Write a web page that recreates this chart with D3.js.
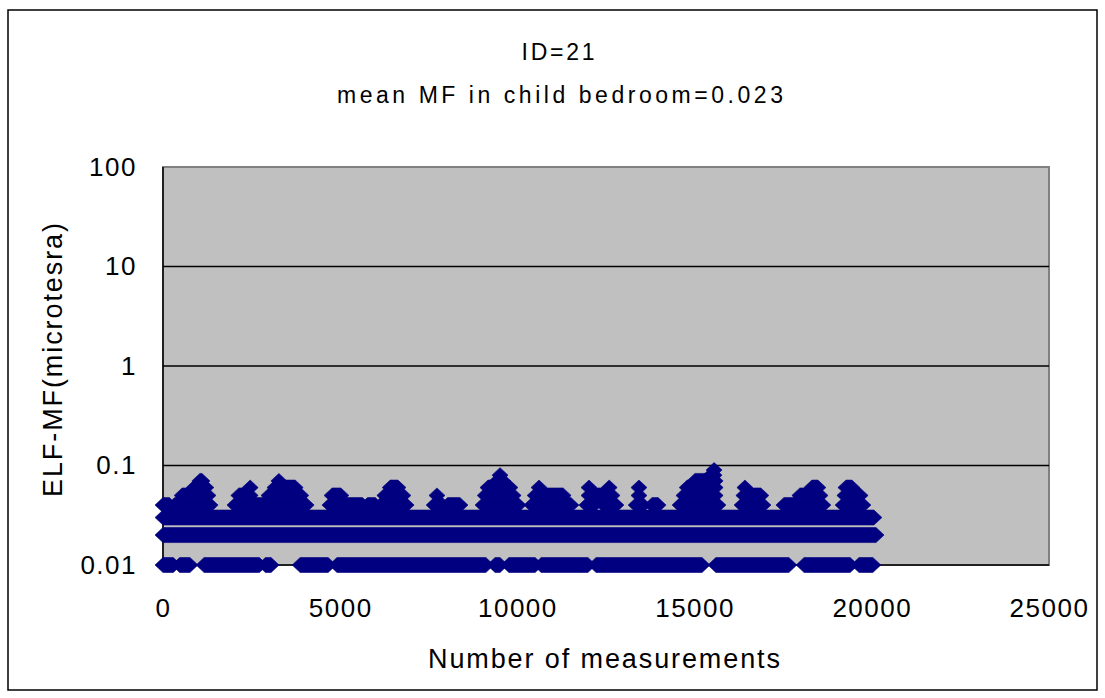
<!DOCTYPE html>
<html>
<head>
<meta charset="utf-8">
<script src="https://d3js.org/d3.v7.min.js"></script>
<style>
    body { margin: 0; background: #ffffff; }
    text { font-family: "Liberation Sans", Arial, sans-serif; fill: #000000; }
    .tick text { font-size: 26px; letter-spacing: 1.5px; }
</style>
</head>
<body>
<script>
//Global variables
const width = 1105;
const height = 698;
const plotLeft = 163;
const plotRight = 1049;
const plotTop = 167;
const plotBottom = 565;
const hw = 8;   //half width of diamond marker
const hh = 7.5; //half height of diamond marker

//Tick values and labels
const xTicks = [0, 5000, 10000, 15000, 20000, 25000];
const yTicks = [0.01, 0.1, 1, 10, 100];
const yTickLabels = ["0.01", "0.1", "1", "10", "100"];
const gridValues = [0.1, 1, 10];

//Measured MF levels (microtesla), quantised to 0.01
const levels = [0.01, 0.02, 0.03, 0.04, 0.05, 0.06, 0.07, 0.08, 0.09];

//Runs of consecutive measurements [first, last] read at each level
const mf001 = [[0, 290], [470, 760], [1160, 2720], [2890, 3050], [3870, 4660], [4910, 9110],
    [9370, 9510], [9760, 10500], [10670, 11990], [12220, 15210], [15600, 17660],
    [18090, 19390], [19640, 20030]];
const mf002 = [[0, 20120]];
const mf003 = [[0, 20060]];
const mf004 = [[0, 180], [330, 490], [640, 1330], [2030, 2300], [2440, 3290], [3430, 4040],
    [4710, 4920], [5070, 5630], [5770, 5990], [6140, 6860], [7650, 7880], [8030, 8380],
    [9030, 10020], [10410, 10930], [11080, 11510], [11960, 12160], [12440, 12780],
    [13350, 13540], [13800, 13970], [14590, 15660], [16340, 16930], [17520, 18620],
    [19190, 19750]];
const mf005 = [[540, 1270], [2140, 2460], [2990, 3890], [4770, 5020], [6260, 6770],
    [7730, 7730], [9090, 9880], [10500, 11290], [12020, 12670], [13430, 13430],
    [14700, 15580], [16390, 16870], [17970, 18540], [19240, 19670]];
const mf006 = [[880, 1210], [2460, 2460], [3160, 3730], [6410, 6630], [9170, 9790],
    [10610, 10610], [12020, 12020], [12590, 12590], [13430, 13430], [14790, 15580],
    [16420, 16420], [18310, 18480], [19270, 19440]];
const mf007 = [[1040, 1100], [3270, 3270], [9430, 9590], [15010, 15580]];
const mf008 = [[9510, 9510], [15460, 15550]];
const mf009 = [[15550, 15550]];

const runsByLevel = [mf001, mf002, mf003, mf004, mf005, mf006, mf007, mf008, mf009];

//Flatten into one list of runs with their level
const runs = [];
runsByLevel.forEach((list, i) => {
    list.forEach(r => runs.push({ level: levels[i], start: r[0], end: r[1] }));
});

//Scales
const xScale = d3.scaleLinear()
    .domain([0, 25000])
    .range([plotLeft, plotRight]);

const yScale = d3.scaleLog()
    .domain([0.01, 100])
    .range([plotBottom, plotTop]);

//SVG element
const svg = d3.select("body")
    .append("svg")
    .attr("width", width)
    .attr("height", height);

//Chart border
svg.append("rect")
    .attr("x", 8)
    .attr("y", 10)
    .attr("width", 1089)
    .attr("height", 680)
    .attr("fill", "#ffffff")
    .attr("stroke", "#000000")
    .attr("stroke-width", 1.5);

//Plot area
svg.append("rect")
    .attr("x", plotLeft)
    .attr("y", plotTop)
    .attr("width", plotRight - plotLeft)
    .attr("height", plotBottom - plotTop)
    .attr("fill", "#c0c0c0")
    .attr("stroke", "#808080")
    .attr("stroke-width", 2);

//Gridlines
svg.selectAll(".grid")
    .data(gridValues)
    .enter()
    .append("line")
    .attr("class", "grid")
    .attr("x1", plotLeft)
    .attr("x2", plotRight)
    .attr("y1", d => yScale(d))
    .attr("y2", d => yScale(d))
    .attr("stroke", "#000000")
    .attr("stroke-width", 1.3);

//Axis lines
svg.append("line")
    .attr("x1", plotLeft).attr("x2", plotLeft)
    .attr("y1", plotTop).attr("y2", plotBottom)
    .attr("stroke", "#000000").attr("stroke-width", 1.5);

svg.append("line")
    .attr("x1", plotLeft).attr("x2", plotRight)
    .attr("y1", plotBottom).attr("y2", plotBottom)
    .attr("stroke", "#000000").attr("stroke-width", 1.5);

//Markers: each run is the union of its diamonds
const runPath = d => {
    const x0 = xScale(d.start);
    const x1 = xScale(d.end);
    const y = yScale(d.level);
    return "M" + (x0 - hw) + "," + y +
        "L" + x0 + "," + (y - hh) +
        "L" + x1 + "," + (y - hh) +
        "L" + (x1 + hw) + "," + y +
        "L" + x1 + "," + (y + hh) +
        "L" + x0 + "," + (y + hh) + "Z";
};

svg.selectAll(".run")
    .data(runs)
    .enter()
    .append("path")
    .attr("class", "run")
    .attr("d", runPath)
    .attr("fill", "#000080")
    .attr("stroke", "#000080")
    .attr("stroke-width", 0.6);

//Axes (labels only)
const leftAxis = d3.axisLeft(yScale)
    .tickValues(yTicks)
    .tickFormat((d, i) => yTickLabels[i])
    .tickSize(0)
    .tickPadding(26);

const bottomAxis = d3.axisBottom(xScale)
    .tickValues(xTicks)
    .tickFormat(d3.format("d"))
    .tickSize(0)
    .tickPadding(34);

svg.append("g")
    .attr("transform", "translate(" + plotLeft + ",0)")
    .call(leftAxis)
    .call(g => g.select(".domain").remove());

svg.append("g")
    .attr("transform", "translate(0," + plotBottom + ")")
    .call(bottomAxis)
    .call(g => g.select(".domain").remove());

//Title
svg.append("text")
    .attr("x", 558)
    .attr("y", 60)
    .attr("text-anchor", "middle")
    .attr("font-size", 23)
    .attr("textLength", 73)
    .attr("lengthAdjust", "spacing")
    .text("ID=21");

svg.append("text")
    .attr("x", 560)
    .attr("y", 103)
    .attr("text-anchor", "middle")
    .attr("font-size", 23)
    .attr("textLength", 446)
    .attr("lengthAdjust", "spacing")
    .text("mean MF in child bedroom=0.023");

//Axis titles
svg.append("text")
    .attr("x", 604)
    .attr("y", 668)
    .attr("text-anchor", "middle")
    .attr("font-size", 27)
    .attr("textLength", 352)
    .attr("lengthAdjust", "spacing")
    .text("Number of measurements");

svg.append("text")
    .attr("transform", "translate(62,360) rotate(-90)")
    .attr("text-anchor", "middle")
    .attr("font-size", 27)
    .attr("textLength", 274)
    .attr("lengthAdjust", "spacing")
    .text("ELF-MF(microtesra)");
</script>
</body>
</html>
